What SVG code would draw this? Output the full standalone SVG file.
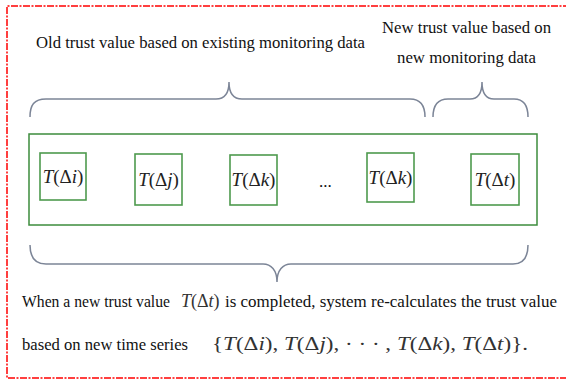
<svg xmlns="http://www.w3.org/2000/svg" width="566" height="380" viewBox="0 0 566 380">
  <style>
    .frame { fill: none; stroke: #ff0000; stroke-width: 1.5; stroke-dasharray: 7 1.5 2 1.5; }
    .box { fill: #ffffff; stroke: #3c8c3c; stroke-width: 1.5; }
    .inner { fill: #ffffff; stroke: #4e9a4e; stroke-width: 1.6; }
    .brace { fill: none; stroke: #7c8597; stroke-width: 1.5; }
    .txt { font-size: 17px; fill: #111111; }
    .math { font-size: 19px; fill: #222222; }
    .mathline { font-size: 18px; fill: #333333; }
    .it { font-style: italic; }
  </style>

  <rect width="566" height="380" fill="#ffffff"/>

  <!-- dashed outer frame (right edge runs off the canvas) -->
  <path class="frame" d="M570,6 L7,6 L7,378 L570,378"/>

  <g font-family="Liberation Serif, Times New Roman, Times, DejaVu Serif, Noto Serif, serif">
    <!-- headings -->
    <text class="txt" x="36" y="48" textLength="329" lengthAdjust="spacingAndGlyphs">Old trust value based on existing monitoring data</text>
    <text class="txt" x="382" y="33" textLength="169" lengthAdjust="spacingAndGlyphs">New trust value based on</text>
    <text class="txt" x="397" y="63" textLength="139" lengthAdjust="spacingAndGlyphs">new monitoring data</text>

    <!-- braces -->
    <g id="connectors">
      <path class="brace" d="M30,117 C30,105 34,99 46,99 L216,99 C224,99 229,94 229,82 C229,94 234,99 242,99 L410,99 C420,99 425,105 425,117"/>
      <path class="brace" d="M433,117 C433,105 438,99 448,99 L470,99 C477,99 482,94 482,82 C482,94 487,99 494,99 L514,99 C524,99 528,105 528,117"/>
      <path class="brace" d="M30,245 C30,258 35,264 46,264 L263,264 C271,264 277,270 277,282 C277,270 283,264 291,264 L513,264 C523,264 528,258 528,245"/>
    </g>

    <!-- container of trust values -->
    <g id="series">
      <rect class="box" x="29" y="134" width="508" height="91"/>
    </g>

    <g id="t-i">
      <rect class="inner" x="40" y="153" width="46" height="47"/>
      <text class="math" x="63" y="183" text-anchor="middle"><tspan class="it">T</tspan>(Δ<tspan class="it">i</tspan>)</text>
    </g>
    <g id="t-j">
      <rect class="inner" x="135" y="154" width="47" height="51"/>
      <text class="math" x="158.5" y="186" text-anchor="middle"><tspan class="it">T</tspan>(Δ<tspan class="it">j</tspan>)</text>
    </g>
    <g id="t-k1">
      <rect class="inner" x="230" y="155" width="47" height="50"/>
      <text class="math" x="253.5" y="186" text-anchor="middle"><tspan class="it">T</tspan>(Δ<tspan class="it">k</tspan>)</text>
    </g>
    <g id="ellipsis">
      <text class="txt" x="319" y="187">...</text>
    </g>
    <g id="t-k2">
      <rect class="inner" x="367" y="153" width="47" height="49"/>
      <text class="math" x="390.5" y="184" text-anchor="middle"><tspan class="it">T</tspan>(Δ<tspan class="it">k</tspan>)</text>
    </g>
    <g id="t-t">
      <rect class="inner" x="471" y="154" width="48" height="51"/>
      <text class="math" x="495" y="186" text-anchor="middle"><tspan class="it">T</tspan>(Δ<tspan class="it">t</tspan>)</text>
    </g>

    <!-- caption -->
    <text class="txt" x="22" y="307" textLength="148" lengthAdjust="spacingAndGlyphs">When a new trust value</text>
    <text class="mathline" x="181" y="307"><tspan class="it">T</tspan>(Δ<tspan class="it">t</tspan>)</text>
    <text class="txt" x="225" y="307" textLength="332" lengthAdjust="spacingAndGlyphs">is completed, system  re-calculates the trust value</text>
    <text class="txt" x="22" y="350" textLength="166" lengthAdjust="spacingAndGlyphs">based on new time series</text>
    <text class="mathline" x="212" y="350" textLength="316" lengthAdjust="spacingAndGlyphs">{<tspan class="it">T</tspan>(Δ<tspan class="it">i</tspan>), <tspan class="it">T</tspan>(Δ<tspan class="it">j</tspan>), · · · , <tspan class="it">T</tspan>(Δ<tspan class="it">k</tspan>), <tspan class="it">T</tspan>(Δ<tspan class="it">t</tspan>)}.</text>
  </g>
</svg>
